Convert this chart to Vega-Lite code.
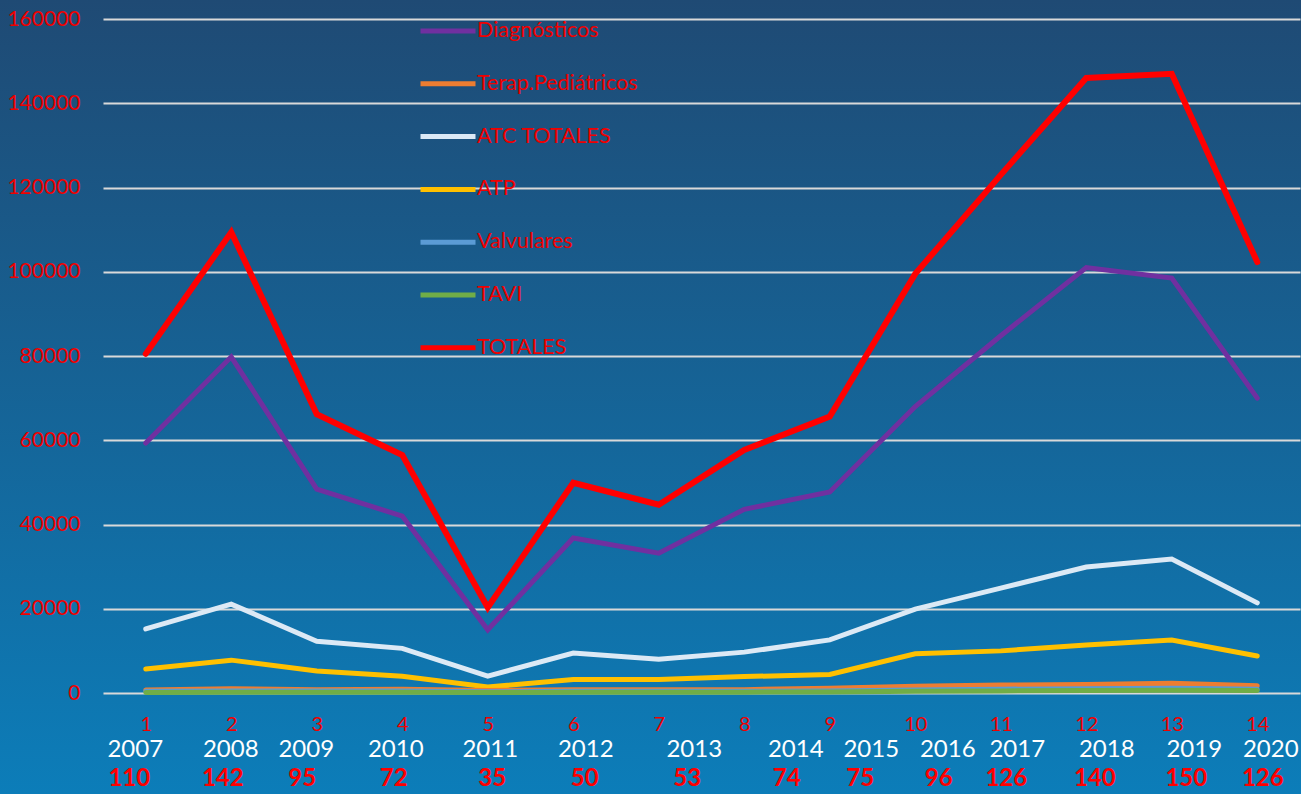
{
  "$schema": "https://vega.github.io/schema/vega-lite/v6.json",
  "width": 1301,
  "height": 794,
  "padding": 0,
  "autosize": {"type": "none"},
  "background": "#166a9f",
  "view": {
    "stroke": null,
    "fill": {
      "gradient": "linear",
      "x1": 0, "y1": 0, "x2": 0, "y2": 1,
      "stops": [
        {"offset": 0, "color": "#1f4a74"},
        {"offset": 1, "color": "#0c7db9"}
      ]
    }
  },
  "config": {
    "font": "Lato",
    "axis": {"domain": false, "ticks": false, "tickSize": 0, "title": null, "labelFont": "Lato", "labelOverlap": false, "labelBound": false, "labelFlush": false}
  },
  "data": {
    "values": [
      {"etiqueta": "1|2007|110", "serie": "Diagnósticos", "valor": 59350},
      {"etiqueta": "1|2007|110", "serie": "Terap.Pediátricos", "valor": 700},
      {"etiqueta": "1|2007|110", "serie": "ATC TOTALES", "valor": 15200},
      {"etiqueta": "1|2007|110", "serie": "ATP", "valor": 5700},
      {"etiqueta": "1|2007|110", "serie": "Valvulares", "valor": 400},
      {"etiqueta": "1|2007|110", "serie": "TAVI", "valor": 100},
      {"etiqueta": "1|2007|110", "serie": "TOTALES", "valor": 80500},
      {"etiqueta": "2|2008|142", "serie": "Diagnósticos", "valor": 79800},
      {"etiqueta": "2|2008|142", "serie": "Terap.Pediátricos", "valor": 1000},
      {"etiqueta": "2|2008|142", "serie": "ATC TOTALES", "valor": 21100},
      {"etiqueta": "2|2008|142", "serie": "ATP", "valor": 7800},
      {"etiqueta": "2|2008|142", "serie": "Valvulares", "valor": 500},
      {"etiqueta": "2|2008|142", "serie": "TAVI", "valor": 150},
      {"etiqueta": "2|2008|142", "serie": "TOTALES", "valor": 109400},
      {"etiqueta": "3|2009|95", "serie": "Diagnósticos", "valor": 48400},
      {"etiqueta": "3|2009|95", "serie": "Terap.Pediátricos", "valor": 800},
      {"etiqueta": "3|2009|95", "serie": "ATC TOTALES", "valor": 12300},
      {"etiqueta": "3|2009|95", "serie": "ATP", "valor": 5200},
      {"etiqueta": "3|2009|95", "serie": "Valvulares", "valor": 500},
      {"etiqueta": "3|2009|95", "serie": "TAVI", "valor": 150},
      {"etiqueta": "3|2009|95", "serie": "TOTALES", "valor": 66200},
      {"etiqueta": "4|2010|72", "serie": "Diagnósticos", "valor": 42000},
      {"etiqueta": "4|2010|72", "serie": "Terap.Pediátricos", "valor": 900},
      {"etiqueta": "4|2010|72", "serie": "ATC TOTALES", "valor": 10600},
      {"etiqueta": "4|2010|72", "serie": "ATP", "valor": 4000},
      {"etiqueta": "4|2010|72", "serie": "Valvulares", "valor": 500},
      {"etiqueta": "4|2010|72", "serie": "TAVI", "valor": 150},
      {"etiqueta": "4|2010|72", "serie": "TOTALES", "valor": 56500},
      {"etiqueta": "5|2011|35", "serie": "Diagnósticos", "valor": 15000},
      {"etiqueta": "5|2011|35", "serie": "Terap.Pediátricos", "valor": 600},
      {"etiqueta": "5|2011|35", "serie": "ATC TOTALES", "valor": 4000},
      {"etiqueta": "5|2011|35", "serie": "ATP", "valor": 1400},
      {"etiqueta": "5|2011|35", "serie": "Valvulares", "valor": 300},
      {"etiqueta": "5|2011|35", "serie": "TAVI", "valor": 100},
      {"etiqueta": "5|2011|35", "serie": "TOTALES", "valor": 20300},
      {"etiqueta": "6|2012|50", "serie": "Diagnósticos", "valor": 36800},
      {"etiqueta": "6|2012|50", "serie": "Terap.Pediátricos", "valor": 800},
      {"etiqueta": "6|2012|50", "serie": "ATC TOTALES", "valor": 9500},
      {"etiqueta": "6|2012|50", "serie": "ATP", "valor": 3200},
      {"etiqueta": "6|2012|50", "serie": "Valvulares", "valor": 400},
      {"etiqueta": "6|2012|50", "serie": "TAVI", "valor": 150},
      {"etiqueta": "6|2012|50", "serie": "TOTALES", "valor": 49900},
      {"etiqueta": "7|2013|53", "serie": "Diagnósticos", "valor": 33200},
      {"etiqueta": "7|2013|53", "serie": "Terap.Pediátricos", "valor": 800},
      {"etiqueta": "7|2013|53", "serie": "ATC TOTALES", "valor": 8000},
      {"etiqueta": "7|2013|53", "serie": "ATP", "valor": 3200},
      {"etiqueta": "7|2013|53", "serie": "Valvulares", "valor": 400},
      {"etiqueta": "7|2013|53", "serie": "TAVI", "valor": 150},
      {"etiqueta": "7|2013|53", "serie": "TOTALES", "valor": 44700},
      {"etiqueta": "8|2014|74", "serie": "Diagnósticos", "valor": 43600},
      {"etiqueta": "8|2014|74", "serie": "Terap.Pediátricos", "valor": 800},
      {"etiqueta": "8|2014|74", "serie": "ATC TOTALES", "valor": 9700},
      {"etiqueta": "8|2014|74", "serie": "ATP", "valor": 3900},
      {"etiqueta": "8|2014|74", "serie": "Valvulares", "valor": 400},
      {"etiqueta": "8|2014|74", "serie": "TAVI", "valor": 200},
      {"etiqueta": "8|2014|74", "serie": "TOTALES", "valor": 57700},
      {"etiqueta": "9|2015|75", "serie": "Diagnósticos", "valor": 47700},
      {"etiqueta": "9|2015|75", "serie": "Terap.Pediátricos", "valor": 1100},
      {"etiqueta": "9|2015|75", "serie": "ATC TOTALES", "valor": 12600},
      {"etiqueta": "9|2015|75", "serie": "ATP", "valor": 4400},
      {"etiqueta": "9|2015|75", "serie": "Valvulares", "valor": 500},
      {"etiqueta": "9|2015|75", "serie": "TAVI", "valor": 250},
      {"etiqueta": "9|2015|75", "serie": "TOTALES", "valor": 65600},
      {"etiqueta": "10|2016|96", "serie": "Diagnósticos", "valor": 68000},
      {"etiqueta": "10|2016|96", "serie": "Terap.Pediátricos", "valor": 1600},
      {"etiqueta": "10|2016|96", "serie": "ATC TOTALES", "valor": 19900},
      {"etiqueta": "10|2016|96", "serie": "ATP", "valor": 9300},
      {"etiqueta": "10|2016|96", "serie": "Valvulares", "valor": 700},
      {"etiqueta": "10|2016|96", "serie": "TAVI", "valor": 400},
      {"etiqueta": "10|2016|96", "serie": "TOTALES", "valor": 99500},
      {"etiqueta": "11|2017|126", "serie": "Diagnósticos", "valor": 84800},
      {"etiqueta": "11|2017|126", "serie": "Terap.Pediátricos", "valor": 1900},
      {"etiqueta": "11|2017|126", "serie": "ATC TOTALES", "valor": 24900},
      {"etiqueta": "11|2017|126", "serie": "ATP", "valor": 10000},
      {"etiqueta": "11|2017|126", "serie": "Valvulares", "valor": 900},
      {"etiqueta": "11|2017|126", "serie": "TAVI", "valor": 500},
      {"etiqueta": "11|2017|126", "serie": "TOTALES", "valor": 123000},
      {"etiqueta": "12|2018|140", "serie": "Diagnósticos", "valor": 101000},
      {"etiqueta": "12|2018|140", "serie": "Terap.Pediátricos", "valor": 2000},
      {"etiqueta": "12|2018|140", "serie": "ATC TOTALES", "valor": 29900},
      {"etiqueta": "12|2018|140", "serie": "ATP", "valor": 11400},
      {"etiqueta": "12|2018|140", "serie": "Valvulares", "valor": 1000},
      {"etiqueta": "12|2018|140", "serie": "TAVI", "valor": 600},
      {"etiqueta": "12|2018|140", "serie": "TOTALES", "valor": 146000},
      {"etiqueta": "13|2019|150", "serie": "Diagnósticos", "valor": 98500},
      {"etiqueta": "13|2019|150", "serie": "Terap.Pediátricos", "valor": 2300},
      {"etiqueta": "13|2019|150", "serie": "ATC TOTALES", "valor": 31800},
      {"etiqueta": "13|2019|150", "serie": "ATP", "valor": 12600},
      {"etiqueta": "13|2019|150", "serie": "Valvulares", "valor": 1100},
      {"etiqueta": "13|2019|150", "serie": "TAVI", "valor": 650},
      {"etiqueta": "13|2019|150", "serie": "TOTALES", "valor": 147000},
      {"etiqueta": "14|2020|126", "serie": "Diagnósticos", "valor": 70000},
      {"etiqueta": "14|2020|126", "serie": "Terap.Pediátricos", "valor": 1700},
      {"etiqueta": "14|2020|126", "serie": "ATC TOTALES", "valor": 21400},
      {"etiqueta": "14|2020|126", "serie": "ATP", "valor": 8800},
      {"etiqueta": "14|2020|126", "serie": "Valvulares", "valor": 900},
      {"etiqueta": "14|2020|126", "serie": "TAVI", "valor": 600},
      {"etiqueta": "14|2020|126", "serie": "TOTALES", "valor": 102300}
    ]
  },
  "encoding": {
    "y": {
      "field": "valor",
      "type": "quantitative",
      "scale": {"domain": [0, 160000], "range": [693, 19], "nice": false, "zero": true},
      "axis": {
        "orient": "left",
        "offset": -103,
        "values": [0, 20000, 40000, 60000, 80000, 100000, 120000, 140000, 160000],
        "format": "d",
        "grid": true,
        "gridColor": "#d9d9d9",
        "gridWidth": 2,
        "labelColor": "#f00000",
        "labelFontSize": 21,
        "labelPadding": 23
      }
    },
    "color": {
      "field": "serie",
      "type": "nominal",
      "scale": {
        "domain": ["Diagnósticos", "Terap.Pediátricos", "ATC TOTALES", "ATP", "Valvulares", "TAVI", "TOTALES"],
        "range": ["#7030a0", "#ed7d31", "#dce9f5", "#ffc000", "#5b9bd5", "#70ad47", "#ff0000"]
      },
      "legend": {
        "title": null,
        "orient": "none",
        "legendX": 418,
        "legendY": 1,
        "padding": 0,
        "symbolType": "stroke",
        "symbolSize": 3025,
        "symbolStrokeWidth": 5,
        "labelFont": "Lato",
        "labelFontSize": 21.5,
        "labelColor": "#f00000",
        "labelOffset": -1,
        "rowPadding": 11.8,
        "labelLimit": 400
      }
    }
  },
  "layer": [
    {
      "transform": [{"filter": {"field": "serie", "oneOf": ["Diagnósticos", "ATC TOTALES", "ATP"]}}],
      "mark": {"type": "line", "strokeWidth": 5, "strokeCap": "round"},
      "encoding": {
        "x": {
          "field": "etiqueta",
          "type": "ordinal",
          "sort": null,
          "scale": {"type": "point", "range": [103, 1300], "padding": 0.5},
          "axis": {
            "orient": "bottom",
            "offset": -101,
            "labelExpr": "split(datum.value, '|')[0]",
            "labelColor": "#f00000",
            "labelFontSize": 20,
            "labelPadding": 21,
            "labelAngle": 0
          }
        }
      }
    },
    {
      "transform": [{"filter": {"field": "serie", "oneOf": ["Terap.Pediátricos", "Valvulares", "TAVI"]}}],
      "mark": {"type": "line", "strokeWidth": 5, "strokeCap": "round"},
      "encoding": {
        "x": {
          "field": "etiqueta",
          "type": "ordinal",
          "sort": null,
          "scale": {"type": "point", "range": [103, 1300], "padding": 0.5},
          "axis": {
            "orient": "bottom",
            "offset": -101,
            "labelExpr": "split(datum.value, '|')[1]",
            "labelColor": "#ffffff",
            "labelFontSize": 24,
            "labelPadding": 44,
            "labelAngle": 0,
            "labelOffset": {"expr": "[-11,-1,-11,-7,2,12,35,51,41,32,16,20,22,13][toNumber(split(datum.value, '|')[0]) - 1]"}
          }
        }
      }
    },
    {
      "transform": [{"filter": {"field": "serie", "equal": "TOTALES"}}],
      "mark": {"type": "line", "strokeWidth": 6, "strokeCap": "round"},
      "encoding": {
        "x": {
          "field": "etiqueta",
          "type": "ordinal",
          "sort": null,
          "scale": {"type": "point", "range": [103, 1300], "padding": 0.5},
          "axis": {
            "orient": "bottom",
            "offset": -101,
            "labelExpr": "split(datum.value, '|')[2]",
            "labelColor": "#ff0000",
            "labelFontSize": 24,
            "labelFontWeight": "bold",
            "labelPadding": 73,
            "labelAngle": 0,
            "labelOffset": {"expr": "[-17,-9,-15,-9,4,11,28,42,30,23,5,8,14,5][toNumber(split(datum.value, '|')[0]) - 1]"}
          }
        }
      }
    }
  ],
  "resolve": {"axis": {"x": "independent"}}
}
